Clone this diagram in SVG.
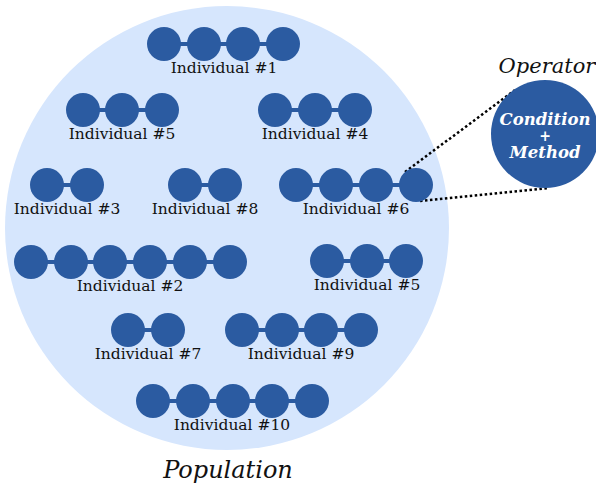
<svg xmlns="http://www.w3.org/2000/svg" width="596" height="485" viewBox="0 0 596 485">
<style>
.b{fill:#2b5ba1}
.l{stroke:#2b5ba1;stroke-width:4}
.t{font-family:"DejaVu Serif",serif;font-size:15.5px;fill:#111;text-anchor:middle}
.dot{stroke:#000;stroke-width:2.5;stroke-dasharray:2.5,2.5;fill:none}
</style>
<defs>
<circle id="c" r="17" class="b"/>
</defs>
<g id="population">
<circle cx="227" cy="228" r="222" fill="#d6e6fd"/>
<text x="228" y="478" font-family="DejaVu Serif,serif" font-style="italic" font-size="24" text-anchor="middle" fill="#111">Population</text>
</g>
<g id="connectors">
<line class="dot" x1="405" y1="172" x2="515" y2="90"/>
<line class="dot" x1="420" y1="201" x2="549" y2="188"/>
</g>
<g id="ind1">
<line class="l" x1="164" y1="44" x2="283" y2="44"/>
<use href="#c" x="164" y="44"/><use href="#c" x="204" y="44"/><use href="#c" x="243" y="44"/><use href="#c" x="283" y="44"/>
<text class="t" x="224" y="73">Individual #1</text>
</g>
<g id="ind5a">
<line class="l" x1="83" y1="110" x2="162" y2="110"/>
<use href="#c" x="83" y="110"/><use href="#c" x="122" y="110"/><use href="#c" x="162" y="110"/>
<text class="t" x="122" y="139">Individual #5</text>
</g>
<g id="ind4">
<line class="l" x1="275" y1="110" x2="355" y2="110"/>
<use href="#c" x="275" y="110"/><use href="#c" x="315" y="110"/><use href="#c" x="355" y="110"/>
<text class="t" x="315" y="139">Individual #4</text>
</g>
<g id="ind3">
<line class="l" x1="47" y1="185" x2="87" y2="185"/>
<use href="#c" x="47" y="185"/><use href="#c" x="87" y="185"/>
<text class="t" x="67" y="214">Individual #3</text>
</g>
<g id="ind8">
<line class="l" x1="185" y1="185" x2="225" y2="185"/>
<use href="#c" x="185" y="185"/><use href="#c" x="225" y="185"/>
<text class="t" x="205" y="214">Individual #8</text>
</g>
<g id="ind6">
<line class="l" x1="296" y1="185" x2="416" y2="185"/>
<use href="#c" x="296" y="185"/><use href="#c" x="336" y="185"/><use href="#c" x="376" y="185"/><use href="#c" x="416" y="185"/>
<text class="t" x="356" y="214">Individual #6</text>
</g>
<g id="ind2">
<line class="l" x1="31" y1="262" x2="230" y2="262"/>
<use href="#c" x="31" y="262"/><use href="#c" x="71" y="262"/><use href="#c" x="110" y="262"/><use href="#c" x="150" y="262"/><use href="#c" x="190" y="262"/><use href="#c" x="230" y="262"/>
<text class="t" x="130" y="291">Individual #2</text>
</g>
<g id="ind5b">
<line class="l" x1="327" y1="261" x2="406" y2="261"/>
<use href="#c" x="327" y="261"/><use href="#c" x="367" y="261"/><use href="#c" x="406" y="261"/>
<text class="t" x="367" y="290">Individual #5</text>
</g>
<g id="ind7">
<line class="l" x1="128" y1="330" x2="168" y2="330"/>
<use href="#c" x="128" y="330"/><use href="#c" x="168" y="330"/>
<text class="t" x="148" y="359">Individual #7</text>
</g>
<g id="ind9">
<line class="l" x1="242" y1="330" x2="361" y2="330"/>
<use href="#c" x="242" y="330"/><use href="#c" x="282" y="330"/><use href="#c" x="321" y="330"/><use href="#c" x="361" y="330"/>
<text class="t" x="301" y="359">Individual #9</text>
</g>
<g id="ind10">
<line class="l" x1="153" y1="401" x2="312" y2="401"/>
<use href="#c" x="153" y="401"/><use href="#c" x="193" y="401"/><use href="#c" x="233" y="401"/><use href="#c" x="272" y="401"/><use href="#c" x="312" y="401"/>
<text class="t" x="232" y="430">Individual #10</text>
</g>
<g id="operator">
<text x="547" y="73" font-family="DejaVu Serif,serif" font-style="italic" font-size="21" text-anchor="middle" fill="#111">Operator</text>
<ellipse cx="545" cy="134" rx="54" ry="54" class="b"/>
<g font-family="DejaVu Serif,serif" font-style="italic" font-weight="bold" font-size="16.5" text-anchor="middle" fill="#fff">
<text x="545" y="125">Condition</text>
<text x="545" y="141" font-size="14">+</text>
<text x="545" y="158">Method</text>
</g>
</g>
</svg>
